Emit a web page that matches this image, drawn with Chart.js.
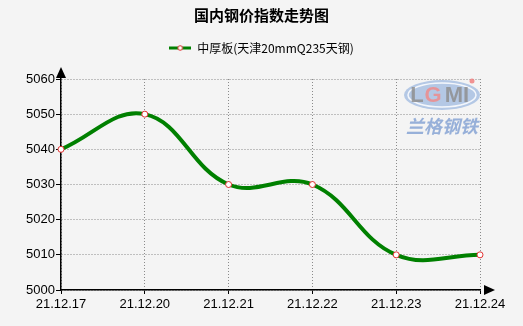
<!DOCTYPE html>
<html>
<head>
<meta charset="utf-8">
<script src="https://cdn.jsdelivr.net/npm/chart.js@4/dist/chart.umd.min.js"></script>
<style>
  html, body { margin: 0; background: #f4f4f4; }
  #wrap { width: 523px; height: 326px; position: relative; }
</style>
</head>
<body>
<div id="wrap"><canvas id="chart"></canvas></div>
<script>
const chartTitle = '国内钢价指数走势图';
const seriesName = '中厚板(天津20mmQ235天钢)';
const dates = ['21.12.17', '21.12.20', '21.12.21', '21.12.22', '21.12.23', '21.12.24'];
const prices = [5040, 5050, 5030, 5030, 5010, 5010];
const yMin = 5000, yMax = 5060, yStep = 10;

const LINE_GREEN = '#008000';
const LABEL_FONT = { family: 'Liberation Sans, Arial, sans-serif', size: 13 };

// small legend marker: green line with the hollow red point
function legendMarker() {
  const c = document.createElement('canvas');
  c.width = 22; c.height = 8;
  const g = c.getContext('2d');
  g.strokeStyle = LINE_GREEN; g.lineWidth = 3;
  g.beginPath(); g.moveTo(0, 4); g.lineTo(22, 4); g.stroke();
  g.fillStyle = '#fff'; g.strokeStyle = '#e03030'; g.lineWidth = 1;
  g.beginPath(); g.arc(11, 4, 2.3, 0, Math.PI * 2); g.fill(); g.stroke();
  return c;
}

// axis arrows + watermark, plus some room under the legend
const decor = {
  id: 'decor',
  beforeLayout(chart) {
    const lg = chart.legend;
    if (lg && !lg._padded) {
      const fit = lg.fit;
      lg.fit = function () { fit.call(this); this.height += 15; };
      lg._padded = true;
    }
  },
  beforeDatasetsDraw(chart) {
    const { ctx, chartArea: a } = chart;
    ctx.save();
    // LGMI watermark
    const cx = a.right - 38, cy = a.top + 16;
    ctx.globalAlpha = 0.85;
    ctx.fillStyle = '#a8bfe2';
    ctx.beginPath(); ctx.ellipse(cx, cy, 38, 15, 0, 0, Math.PI * 2); ctx.fill();
    ctx.strokeStyle = '#ffffff'; ctx.lineWidth = 1.5;
    ctx.beginPath(); ctx.ellipse(cx, cy, 34, 12, 0, 0, Math.PI * 2); ctx.stroke();
    ctx.font = 'bold 22px Liberation Sans, Arial, sans-serif';
    ctx.textAlign = 'center'; ctx.textBaseline = 'middle';
    ctx.fillStyle = '#8f8f8f';
    ctx.fillText('L', cx - 25, cy + 1);
    ctx.fillStyle = '#ee8c8c';
    ctx.fillText('G', cx - 9, cy + 1);
    ctx.fillStyle = '#8f8f8f';
    ctx.fillText('MI', cx + 15, cy + 1);
    ctx.fillStyle = '#f08080';
    ctx.beginPath(); ctx.arc(cx + 30, cy - 14, 2.5, 0, Math.PI * 2); ctx.fill();
    ctx.fillStyle = '#86a3d3';
    ctx.font = 'italic bold 18px "Noto Sans CJK SC", sans-serif';
    ctx.fillText('兰格钢铁', cx, cy + 31);
    ctx.restore();
  },
  afterDraw(chart) {
    const { ctx, chartArea: a } = chart;
    ctx.save();
    ctx.fillStyle = '#000';
    ctx.beginPath();
    ctx.moveTo(a.left, a.top - 12); ctx.lineTo(a.left - 5, a.top - 1); ctx.lineTo(a.left + 5, a.top - 1);
    ctx.closePath(); ctx.fill();
    ctx.beginPath();
    ctx.moveTo(a.right + 15, a.bottom); ctx.lineTo(a.right + 4, a.bottom - 5); ctx.lineTo(a.right + 4, a.bottom + 5);
    ctx.closePath(); ctx.fill();
    ctx.restore();
  }
};

new Chart(document.getElementById('chart'), {
  type: 'line',
  data: {
    labels: dates,
    datasets: [{
      label: seriesName,
      data: prices,
      borderColor: LINE_GREEN,
      borderWidth: 4,
      tension: 0.4,
      fill: false,
      pointRadius: 3,
      pointBorderWidth: 1,
      pointBackgroundColor: '#ffffff',
      pointBorderColor: '#e03030',
      pointStyle: 'circle'
    }]
  },
  options: {
    responsive: true,
    maintainAspectRatio: false,
    animation: false,
    layout: { padding: 0 },
    plugins: {
      title: {
        display: true,
        text: chartTitle,
        color: '#000',
        font: { family: '"Noto Sans CJK SC", sans-serif', size: 15, weight: 'bold' },
        padding: { top: 6, bottom: 8 }
      },
      legend: {
        display: true,
        labels: {
          color: '#000',
          font: { family: '"Noto Sans CJK SC", sans-serif', size: 12 },
          usePointStyle: true,
          pointStyle: legendMarker(),
          pointStyleWidth: 22,
          padding: 10
        }
      },
      tooltip: { enabled: false }
    },
    scales: {
      x: {
        offset: false,
        afterFit: s => { s.height = 36; },
        grid: {
          color: '#8a8a8a', lineWidth: 1,
          tickColor: '#000', tickLength: 4, tickBorderDash: []
        },
        border: { color: '#000', width: 1.5, dash: [1, 2] },
        ticks: { color: '#000', font: LABEL_FONT, maxRotation: 0, padding: 3 }
      },
      y: {
        min: yMin, max: yMax,
        afterFit: s => { s.width = 61; },
        grid: {
          color: '#8a8a8a', lineWidth: 1,
          tickColor: '#000', tickLength: 5, tickBorderDash: []
        },
        border: { color: '#000', width: 1.5, dash: [1, 2] },
        ticks: { stepSize: yStep, color: '#000', font: LABEL_FONT, padding: 1, callback: v => String(v) }
      },
      // empty right-hand axis, only keeps room for the x arrow
      yRight: {
        position: 'right',
        min: yMin, max: yMax,
        afterFit: s => { s.width = 43; },
        grid: { display: false },
        border: { display: false },
        ticks: { display: false }
      }
    }
  },
  plugins: [decor]
});
</script>
</body>
</html>
